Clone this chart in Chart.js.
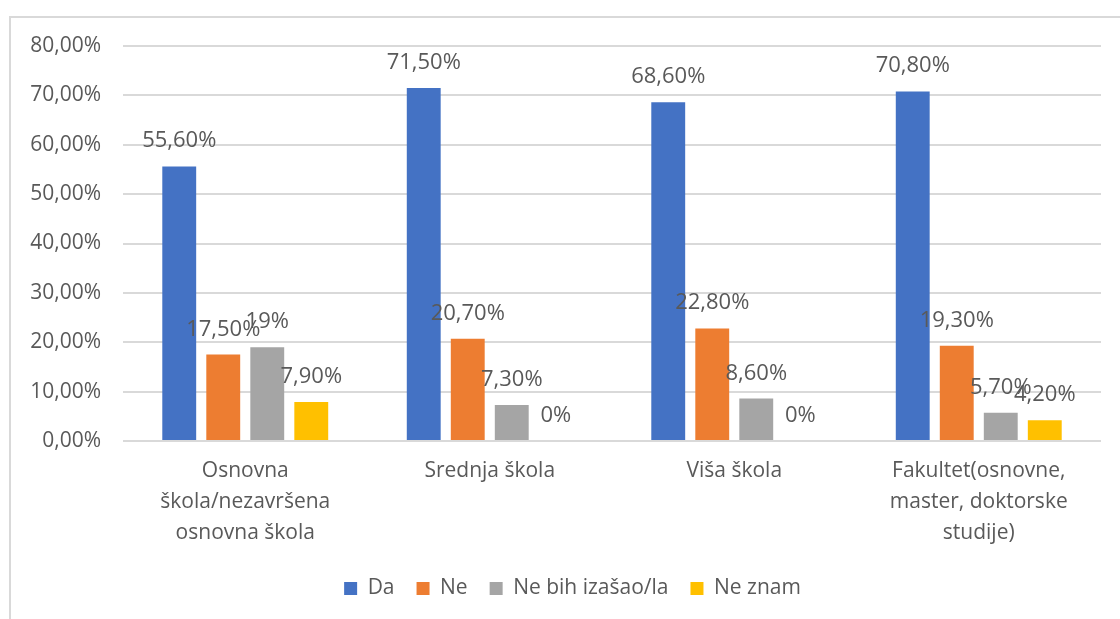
<!DOCTYPE html>
<html>
<head>
<meta charset="utf-8">
<script src="https://cdn.jsdelivr.net/npm/chart.js@4"></script>
<style>
  html, body { margin: 0; padding: 0; background: #fff; }
  #okvir {
    position: absolute; left: 9px; top: 16px; width: 1111px; height: 603px;
    border-left: 2px solid #d9d9d9; border-top: 2px solid #d9d9d9;
  }
  #wrap { position: absolute; left: 0; top: 0; width: 1120px; height: 619px; }
</style>
</head>
<body>
<div id="okvir"></div>
<div id="wrap"><canvas id="grafik"></canvas></div>
<script>
// podaci sa slike
const kategorije = [
    ["Osnovna", "škola/nezavršena", "osnovna škola"],
    "Srednja škola",
    "Viša škola",
    ["Fakultet(osnovne,", "master, doktorske", "studije)"]
];
const serije = ["Da", "Ne", "Ne bih izašao/la", "Ne znam"];
const da = [55.6, 71.5, 68.6, 70.8];
const ne = [17.5, 20.7, 22.8, 19.3];
const neBihIzasao = [19, 7.3, 8.6, 5.7];
const neZnam = [7.9, 0, 0, 4.2];
const natpisiDa = ["55,60%", "71,50%", "68,60%", "70,80%"];
const natpisiNe = ["17,50%", "20,70%", "22,80%", "19,30%"];
const natpisiNeBih = ["19%", "7,30%", "8,60%", "5,70%"];
const natpisiNeZnam = ["7,90%", "0%", "0%", "4,20%"];
const yTicks = [0, 10, 20, 30, 40, 50, 60, 70, 80];

const boje = ['#4472C4', '#ED7D31', '#A5A5A5', '#FFC000'];
const vrijednosti = [da, ne, neBihIzasao, neZnam];
const natpisi = [natpisiDa, natpisiNe, natpisiNeBih, natpisiNeZnam];

const FONT = "'Open Sans', sans-serif";
const SIVA = '#595959';

// natpisi iznad stubova
const natpisiPlugin = {
    id: 'natpisi',
    afterDatasetsDraw(chart) {
        const ctx = chart.ctx;
        ctx.save();
        ctx.font = `22px ${FONT}`;
        ctx.fillStyle = SIVA;
        ctx.textAlign = 'center';
        ctx.textBaseline = 'alphabetic';
        chart.data.datasets.forEach((ds, i) => {
            chart.getDatasetMeta(i).data.forEach((bar, j) => {
                ctx.fillText(natpisi[i][j], bar.x, bar.y - 19);
            });
        });
        ctx.restore();
    }
};

// legenda je u originalu malo udesno
const pomakLegende = {
    id: 'pomakLegende',
    afterLayout(chart) {
        chart.legend.left += 44;
    }
};

new Chart(document.getElementById('grafik'), {
    type: 'bar',
    data: {
        labels: kategorije,
        datasets: serije.map((s, i) => ({
            label: s,
            data: vrijednosti[i],
            backgroundColor: boje[i],
            categoryPercentage: 0.72,
            barPercentage: 0.77
        }))
    },
    options: {
        responsive: true,
        maintainAspectRatio: false,
        animation: false,
        layout: { padding: { top: 46, right: 19, bottom: 10, left: 0 } },
        scales: {
            x: {
                grid: { display: false },
                border: { display: false },
                ticks: {
                    color: SIVA,
                    font: { family: FONT, size: 21, lineHeight: 1.48 },
                    padding: 6,
                    maxRotation: 0,
                    autoSkip: false
                },
                afterFit(scale) { scale.height = 115; }
            },
            y: {
                min: 0,
                max: 80,
                afterBuildTicks(scale) { scale.ticks = yTicks.map(v => ({ value: v })); },
                grid: { color: '#d9d9d9', lineWidth: 2, drawTicks: false },
                border: { display: false },
                ticks: {
                    color: SIVA,
                    font: { family: FONT, size: 21 },
                    padding: 22,
                    callback: v => v.toFixed(2).replace('.', ',') + '%'
                },
                afterFit(scale) { scale.width = 123; }
            }
        },
        plugins: {
            legend: {
                position: 'bottom',
                labels: {
                    boxWidth: 13,
                    boxHeight: 13,
                    padding: 22,
                    color: SIVA,
                    font: { family: FONT, size: 21 }
                }
            },
            tooltip: { enabled: false }
        }
    },
    plugins: [natpisiPlugin, pomakLegende]
});
</script>
</body>
</html>
